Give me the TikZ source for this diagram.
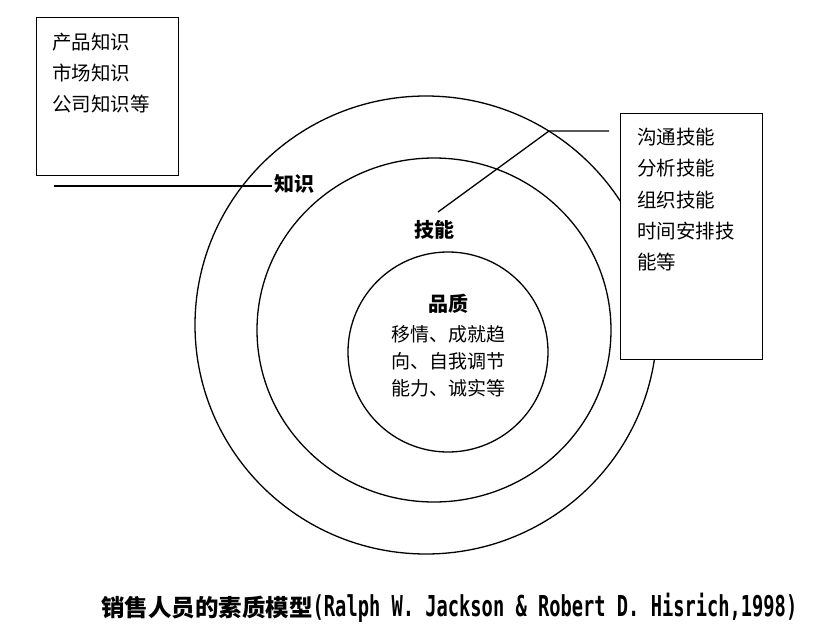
\documentclass[tikz,border=0pt]{standalone}
\usepackage{fontspec}
\usepackage{tikz}
\newfontfamily\cjk{Noto Sans CJK SC}
\newfontfamily\refmono[FakeStretch=0.65]{DejaVu Sans Mono}

\begin{document}
\begin{tikzpicture}[
    x=1pt,
    y=-1pt,
    ring/.style={draw=black, line width=1.3pt},
    boxframe/.style={rectangle, draw=black, fill=white, line width=1.3pt, inner sep=0pt},
    listtext/.style={align=left, inner sep=0pt, font=\cjk\fontsize{19.5}{31.2}\selectfont},
    ringlabel/.style={inner sep=2pt, font=\cjk\bfseries\fontsize{20}{24}\selectfont},
    leader/.style={draw=black, line width=1.3pt}
]
\useasboundingbox (0,0) rectangle (836,634);

% Rings: knowledge, skill, trait
\draw[ring] (426,325) ellipse [x radius=231pt, y radius=229pt];
\draw[ring] (434,330) ellipse [x radius=177pt, y radius=172pt];
\draw[ring] (448,352) circle [radius=100pt];

% Knowledge box and its leader
\node [boxframe, minimum width=142pt, minimum height=158pt, anchor=north west] (know box) at (36,17) {};
\node [listtext, anchor=north west] (know list) at (52,33) {产品知识\\市场知识\\公司知识等};
\node [ringlabel] (know label) at (294,184) {知识};
\coordinate (know tail) at (54,186);
\draw[leader] (know tail) -- (know label.west |- know tail);

% Skill box and its leader
\node [boxframe, minimum width=142pt, minimum height=246pt, anchor=north west] (skill box) at (620,113) {};
\node [listtext, anchor=north west] (skill list) at (637,128) {沟通技能\\分析技能\\组织技能\\时间安排技\\能等};
\node [ringlabel] (skill label) at (434,230) {技能};
\coordinate (skill tip) at (438,212);
\coordinate (skill bend) at (549,131);
\draw[leader] (skill tip) -- (skill bend) -- ([xshift=-11pt]skill box.west |- skill bend);

% Trait core
\node [ringlabel] (trait label) at (448,304) {品质};
\node [listtext, align=center, anchor=north, font=\cjk\fontsize{19}{27}\selectfont] (trait list) at (448,325) {移情、成就趋\\向、自我调节\\能力、诚实等};

% Caption
\node [anchor=west, inner sep=0pt] (caption) at (101,608) {{\cjk\bfseries\fontsize{23.5}{28}\selectfont 销售人员的素质模型}{\refmono\bfseries\fontsize{28.8}{30}\selectfont (Ralph W. Jackson \& Robert D. Hisrich,1998)}};

\end{tikzpicture}
\end{document}
